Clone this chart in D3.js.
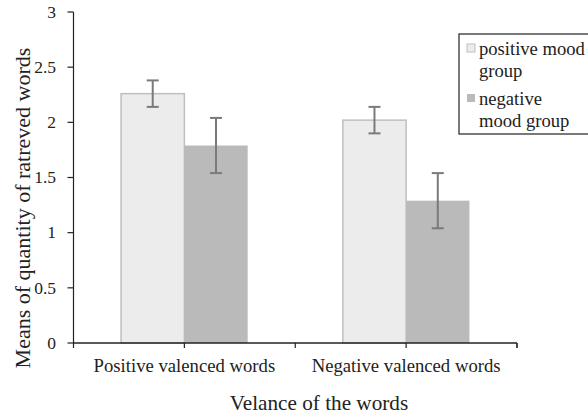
<!DOCTYPE html>
<html><head><meta charset="utf-8">
<script src="https://cdn.jsdelivr.net/npm/d3@7"></script>
<style>body{margin:0;background:#fff}svg{display:block}</style>
</head><body><svg id="c" width="588" height="419" font-family="'Liberation Serif', 'Times New Roman', Times, 'DejaVu Serif', serif"></svg>
<script>
const categories = ["Positive valenced words", "Negative valenced words"];
const seriesNames = ["positive mood group", "negative mood group"];
const positiveMood = [2.26, 2.02];
const negativeMood = [1.79, 1.29];
const positiveErr = [0.12, 0.12];
const negativeErr = [0.25, 0.25];
const yTicks = [0, 0.5, 1, 1.5, 2, 2.5, 3];

const svg = d3.select("#c");
const x0 = 73.5, x1 = 517, yTop = 12, yBot = 343;
const x = d3.scaleBand().domain(categories).range([x0, x1]);
const y = d3.scaleLinear().domain([0, 3]).range([yBot, yTop]);
const barW = 63.3;
const fills = ["#ebeceb", "#bababa"];
const strokes = ["#bfbfbf", "none"];
const vals = [positiveMood, negativeMood];
const errs = [positiveErr, negativeErr];
const txt = "#222";

seriesNames.forEach((s, si) => {
  svg.append("g").selectAll("rect").data(categories).join("rect")
    .attr("x", d => x(d) + x.bandwidth()/2 + (si - 1) * barW)
    .attr("y", (d, i) => y(vals[si][i]))
    .attr("width", barW)
    .attr("height", (d, i) => yBot - y(vals[si][i]))
    .attr("fill", fills[si])
    .attr("stroke", strokes[si])
    .attr("stroke-width", si===0 ? 1.5 : 0);
});
seriesNames.forEach((s, si) => {
  categories.forEach((c, i) => {
    const cx = x(c) + x.bandwidth()/2 + (si - 0.5) * barW;
    const hi = y(vals[si][i] + errs[si][i]), lo = y(vals[si][i] - errs[si][i]);
    const g = svg.append("g").attr("stroke", "#7a7a7a").attr("stroke-width", 2);
    g.append("line").attr("x1", cx).attr("x2", cx).attr("y1", hi).attr("y2", lo);
    g.append("line").attr("x1", cx - 6).attr("x2", cx + 6).attr("y1", hi).attr("y2", hi);
    g.append("line").attr("x1", cx - 6).attr("x2", cx + 6).attr("y1", lo).attr("y2", lo);
  });
});

const ya = svg.append("g");
ya.append("line").attr("x1", x0).attr("x2", x0).attr("y1", yTop).attr("y2", yBot).attr("stroke", txt).attr("stroke-width", 1.2);
yTicks.forEach(t => {
  ya.append("line").attr("x1", x0 - 6).attr("x2", x0).attr("y1", y(t)).attr("y2", y(t)).attr("stroke", txt).attr("stroke-width", 1.2);
  ya.append("text").attr("x", 56).attr("y", y(t)).attr("dy", "0.33em").attr("text-anchor", "end").attr("font-size", 17.5).attr("fill", txt).text(t);
});
const xa = svg.append("g");
xa.append("line").attr("x1", x0).attr("x2", x1).attr("y1", yBot).attr("y2", yBot).attr("stroke", txt).attr("stroke-width", 1.5);
const xTickPos = [x0, x1];
categories.forEach(c => { xTickPos.push(x(c) + x.bandwidth()/2); xTickPos.push(x(c) + x.bandwidth()); });
xTickPos.forEach(p => xa.append("line").attr("x1", p).attr("x2", p).attr("y1", yBot).attr("y2", yBot + 5).attr("stroke", txt).attr("stroke-width", 1.2));
categories.forEach(c => {
  xa.append("text").attr("x", x(c) + x.bandwidth()/2).attr("y", 372).attr("text-anchor", "middle").attr("font-size", 18.7).attr("fill", txt).text(c);
});
svg.append("text").attr("x", 319).attr("y", 410).attr("text-anchor", "middle").attr("font-size", 21.2).attr("fill", txt).text("Velance of the words");
svg.append("text").attr("transform", "translate(30,208) rotate(-90)").attr("text-anchor", "middle").attr("font-size", 22).attr("fill", txt).text("Means of quantity of ratreved words");

const lg = svg.append("g");
lg.append("rect").attr("x", 459).attr("y", 34).attr("width", 140).attr("height", 100).attr("fill", "#fff").attr("stroke", txt).attr("stroke-width", 1.2);
const legendLines = [["positive mood", "group"], ["negative", "mood group"]];
seriesNames.forEach((s, si) => {
  const by = 55 + si * 50;
  lg.append("rect").attr("x", 467).attr("y", by - 11).attr("width", 8).attr("height", 8)
    .attr("fill", fills[si]).attr("stroke", si===0 ? "#bfbfbf" : "none");
  legendLines[si].forEach((t, li) => {
    lg.append("text").attr("x", 479).attr("y", by + li * 21.5).attr("font-size", 18.6).attr("fill", txt).text(t);
  });
});
</script></body></html>
